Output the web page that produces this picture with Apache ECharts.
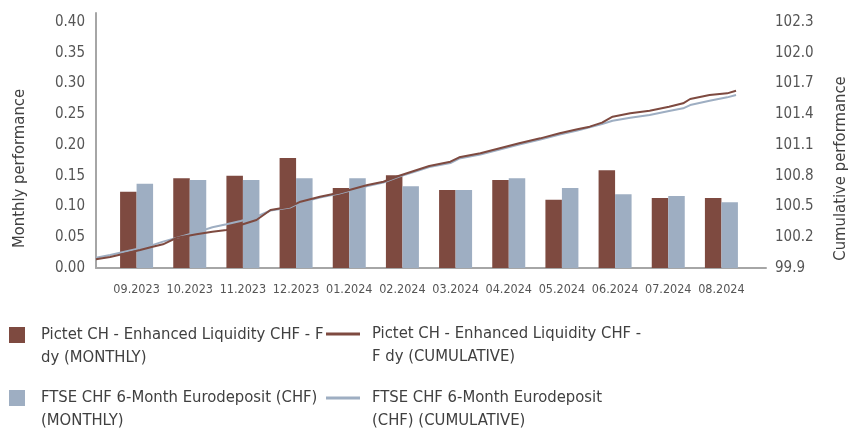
<!DOCTYPE html>
<html>
<head>
<meta charset="utf-8">
<script src="https://cdn.jsdelivr.net/npm/echarts@6/dist/echarts.min.js"></script>
<style>html,body{margin:0;padding:0;background:#fff}#c{width:851px;height:435px}</style>
</head>
<body>
<div id="c"></div>
<script>
// ---- data ----
const categories = ['09.2023','10.2023','11.2023','12.2023','01.2024','02.2024','03.2024','04.2024','05.2024','06.2024','07.2024','08.2024'];
const fundMonthly  = [0.124,0.146,0.150,0.179,0.130,0.151,0.127,0.143,0.111,0.159,0.114,0.114];
const benchMonthly = [0.137,0.143,0.143,0.146,0.146,0.133,0.127,0.146,0.130,0.120,0.117,0.107];
// day index counted from 31.08.2023
const lineDays = [0,8,25,31,38,46,57,66,74,82,91,99,110,116,127,138,154,163,172,182,189,201,206,218,229,240,252,263,273,280,287,293,303,314,325,333,337,348,358,363];
const fundCumulative  = [99.985,100.007,100.076,100.102,100.131,100.196,100.229,100.254,100.271,100.320,100.368,100.466,100.498,100.547,100.596,100.635,100.710,100.742,100.800,100.856,100.895,100.937,100.980,101.019,101.068,101.117,101.165,101.214,101.253,101.279,101.318,101.376,101.409,101.435,101.474,101.507,101.549,101.588,101.604,101.630];
const benchCumulative = [100.000,100.027,100.092,100.118,100.157,100.196,100.248,100.297,100.326,100.359,100.400,100.461,100.490,100.539,100.588,100.627,100.700,100.734,100.793,100.846,100.885,100.924,100.968,101.007,101.056,101.105,101.154,101.202,101.241,101.273,101.305,101.337,101.366,101.393,101.432,101.458,101.490,101.532,101.565,101.588];
const leftTicks = {min:0, max:0.4146, interval:0.05};
const rightTicks = {min:99.9, max:102.388, interval:0.3};
const names = {
  fundM: 'Pictet CH - Enhanced Liquidity CHF - F\ndy (MONTHLY)',
  fundC: 'Pictet CH - Enhanced Liquidity CHF -\nF dy (CUMULATIVE)',
  benchM: 'FTSE CHF 6-Month Eurodeposit (CHF)\n(MONTHLY)',
  benchC: 'FTSE CHF 6-Month Eurodeposit\n(CHF) (CUMULATIVE)'
};

// ---- styles ----
const FONT = "'Liberation Sans Narrow','DejaVu Sans Condensed',sans-serif";
const RED = '#7E4A40', BLUE = '#9EAEC2', AXIS = '#A6A6A6', TXT = '#555555';

const chart = echarts.init(document.getElementById('c'), null, {renderer:'canvas'});
const legendText = (padLeft) => ({fontFamily:FONT, fontSize:16.5, color:'#404040', lineHeight:23, padding:[0,0,0,padLeft]});
const legendFmt = n => '\n' + n;
const option = {
  animation:false,
  grid:[
    {left:96, right:85, top:13, bottom:167, outerBoundsMode:'none', containLabel:false},
    {left:110, right:103, top:13, bottom:167, outerBoundsMode:'none', containLabel:false}
  ],
  xAxis:[
    {gridIndex:0, type:'value', min:0, max:380, axisLine:{show:true, onZero:false, lineStyle:{color:AXIS, width:2}}, axisTick:{show:false}, axisLabel:{show:false}, splitLine:{show:false}},
    {gridIndex:1, type:'category', data:categories, axisLine:{show:false}, axisTick:{show:false},
     axisLabel:{fontFamily:FONT, fontSize:12.5, color:TXT, margin:15, interval:0}}
  ],
  yAxis:[
    {gridIndex:0, type:'value', min:leftTicks.min, max:leftTicks.max, interval:leftTicks.interval,
     axisLine:{show:true, lineStyle:{color:AXIS, width:2}}, axisTick:{show:false}, splitLine:{show:false},
     axisLabel:{fontFamily:FONT, fontSize:15, color:TXT, margin:11, showMaxLabel:false, formatter:v=>v.toFixed(2)},
     name:'Monthly performance', nameLocation:'middle', nameRotate:90, nameGap:68, nameMoveOverlap:false,
     nameTextStyle:{fontFamily:FONT, fontSize:16.5, color:'#404040', padding:[0,56,0,0]}},
    {gridIndex:0, type:'value', position:'right', min:rightTicks.min, max:rightTicks.max, interval:rightTicks.interval,
     axisLine:{show:false}, axisTick:{show:false}, splitLine:{show:false},
     axisLabel:{fontFamily:FONT, fontSize:15, color:TXT, margin:9, showMaxLabel:false, formatter:v=>v.toFixed(1)},
     name:'Cumulative performance', nameLocation:'middle', nameRotate:90, nameGap:66, nameMoveOverlap:false,
     nameTextStyle:{fontFamily:FONT, fontSize:16.5, color:'#404040', padding:[0,56,0,0]}},
    {gridIndex:1, type:'value', show:false, min:leftTicks.min, max:leftTicks.max}
  ],
  legend:[
    {data:[names.fundM], left:9, top:300.5, padding:0, icon:'rect', itemWidth:16, itemHeight:16, formatter:legendFmt, textStyle:legendText(11), selectedMode:false},
    {data:[names.fundC], left:326, top:299.5, padding:0, icon:'rect', itemWidth:34, itemHeight:3, formatter:legendFmt, textStyle:legendText(7), selectedMode:false},
    {data:[names.benchM], left:9, top:363.5, padding:0, icon:'rect', itemWidth:16, itemHeight:16, formatter:legendFmt, textStyle:legendText(11), selectedMode:false},
    {data:[names.benchC], left:326, top:363.5, padding:0, icon:'rect', itemWidth:34, itemHeight:3, formatter:legendFmt, textStyle:legendText(7), selectedMode:false}
  ],
  series:[
    {name:names.fundM, type:'bar', xAxisIndex:1, yAxisIndex:2, data:fundMonthly, barWidth:16.5, barGap:'0%', itemStyle:{color:RED}, z:1},
    {name:names.benchM, type:'bar', xAxisIndex:1, yAxisIndex:2, data:benchMonthly, barWidth:16.5, barGap:'0%', itemStyle:{color:BLUE}, z:1},
    {name:names.fundC, type:'line', xAxisIndex:0, yAxisIndex:1, data:lineDays.map((d,i)=>[d,fundCumulative[i]]), showSymbol:false, lineStyle:{color:RED, width:2}, itemStyle:{color:RED}, z:3},
    {name:names.benchC, type:'line', xAxisIndex:0, yAxisIndex:1, data:lineDays.map((d,i)=>[d,benchCumulative[i]]), showSymbol:false, lineStyle:{color:BLUE, width:2}, itemStyle:{color:BLUE}, z:2}
  ]
};
chart.setOption(option);
</script>
</body>
</html>
